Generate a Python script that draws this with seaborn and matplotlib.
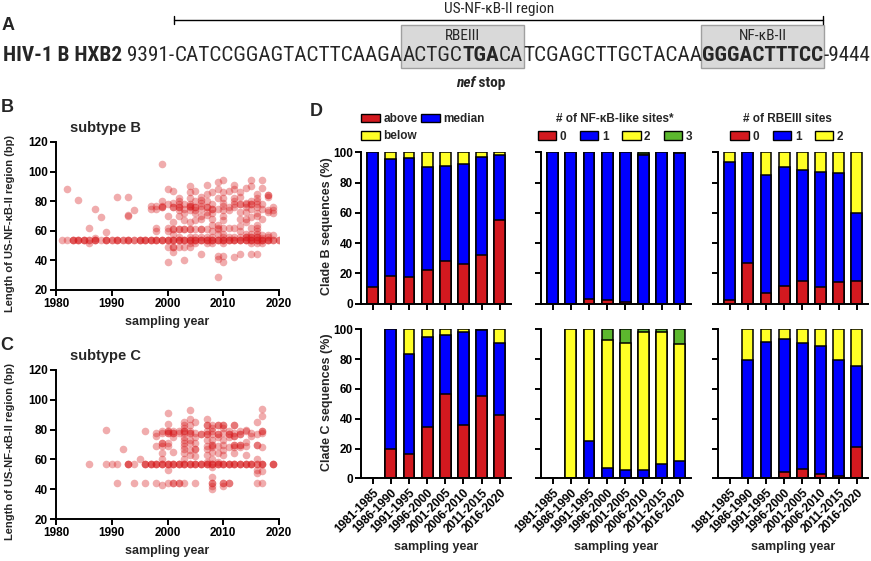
import matplotlib
matplotlib.use("Agg")
import matplotlib.pyplot as plt
import seaborn as sns
from matplotlib import font_manager
from matplotlib.patches import Patch, Rectangle

W, H = 871, 561

# =========================================================
# Daten
# =========================================================
periods = ["1981-1985", "1986-1990", "1991-1995", "1996-2000",
           "2001-2005", "2006-2010", "2011-2015", "2016-2020"]

# Panel D, Clade B (%)
b_len_above = [11, 18.5, 17.5, 22, 28, 26, 32, 55]
b_len_median = [89, 77.1, 78.5, 68.3, 63, 66.3, 65, 43.5]
b_len_below = [0, 4.4, 4, 9.7, 9, 7.7, 3, 1.5]
b_nfkb_0 = [0, 0, 3, 2.5, 1, 0, 0, 0]
b_nfkb_1 = [100, 100, 97, 97.5, 99, 98.5, 100, 99.5]
b_nfkb_2 = [0, 0, 0, 0, 0, 0.5, 0, 0.5]
b_nfkb_3 = [0, 0, 0, 0, 0, 1, 0, 0]
b_rbe_0 = [2.5, 26.7, 7, 11.5, 15, 11, 14.5, 15]
b_rbe_1 = [91, 73.3, 78, 79, 73, 76, 72, 45]
b_rbe_2 = [6.5, 0, 15, 9.5, 12, 13, 13.5, 40]

# Panel D, Clade C (%)
c_len_above = [0, 20, 16.5, 34.5, 56.5, 35.5, 55, 42.5]
c_len_median = [0, 80, 67, 60.5, 39.5, 62.5, 44.5, 48]
c_len_below = [0, 0, 16.5, 5, 4, 2, 0.5, 9.5]
c_nfkb_0 = [0, 0, 0, 0, 0, 0, 0, 0]
c_nfkb_1 = [0, 0, 25, 6.7, 5.6, 5.6, 9.4, 11.6]
c_nfkb_2 = [0, 100, 75, 86.3, 85.4, 92.8, 89, 78.4]
c_nfkb_3 = [0, 0, 0, 7, 9, 1.6, 1.6, 10]
c_rbe_0 = [0, 0, 0, 4, 6, 3, 1.3, 21.3]
c_rbe_1 = [0, 79.4, 91.5, 89.5, 84.6, 85.8, 78.1, 54.3]
c_rbe_2 = [0, 20.6, 8.5, 6.5, 9.4, 11.2, 20.6, 24.4]

# Panel B: Laenge der US-NF-kB-II Region pro Jahr (subtype B)
sub_b_years = [1981, 1982, 1983, 1984, 1985, 1986, 1987, 1988, 1989, 1990,
               1991, 1992, 1993, 1994, 1995, 1996, 1997, 1998, 1999, 2000,
               2001, 2002, 2003, 2004, 2005, 2006, 2007, 2008, 2009, 2010,
               2011, 2012, 2013, 2014, 2015, 2016, 2017, 2018, 2019, 2020]
sub_b_lengths = [
    [54], [54, 88], [54, 54, 54], [54, 54, 54, 81], [54, 54, 54],
    [54, 54, 62, 52], [54, 54, 54, 75, 55], [54, 69], [54, 54, 54, 59], [54, 54],
    [54, 54, 54, 83], [54, 54], [54, 54, 54, 83, 71, 70], [54, 54, 74], [54, 54, 54],
    [54, 54, 54], [54, 54, 54, 77, 75], [54, 54, 54, 77, 75, 62, 60],
    [54, 54, 54, 105, 80, 77, 76, 76],
    [54, 54, 54, 88, 78, 70, 62, 60, 49, 39],
    [54, 54, 54, 87, 79, 76, 76, 66, 61, 61, 58, 49, 49, 46],
    [54, 54, 54, 82, 80, 78, 76, 76, 74, 70, 61, 61, 56, 49],
    [54, 54, 54, 78, 75, 72, 67, 61, 61, 49, 40],
    [54, 54, 54, 90, 86, 82, 78, 77, 77, 76, 74, 66, 61, 61, 56, 52, 49],
    [54, 54, 54, 87, 80, 76, 76, 74, 72, 67, 61, 56, 52],
    [54, 54, 54, 83, 81, 79, 77, 75, 70, 68, 61, 61, 56, 44],
    [54, 54, 54, 91, 85, 80, 76, 76, 73, 71, 61, 56, 52],
    [54, 54, 54, 86, 78, 75, 75, 72, 68, 64, 60, 56, 52],
    [54, 54, 54, 93, 88, 82, 75, 64, 62, 61, 58, 43, 41, 29],
    [54, 54, 54, 94, 86, 82, 79, 77, 74, 70, 67, 62, 58, 56, 52, 43, 39],
    [54, 54, 54, 87, 76, 74, 62, 56],
    [54, 54, 54, 91, 88, 82, 80, 78, 76, 62, 56, 42],
    [54, 54, 54, 86, 83, 78, 78, 73, 68, 63, 60, 56, 44],
    [54, 54, 54, 89, 79, 78, 76, 73, 68, 66, 58, 56, 56],
    [54, 54, 54, 94, 90, 80, 78, 78, 75, 69, 62, 58, 56, 56, 52, 44],
    [54, 54, 54, 85, 82, 80, 78, 76, 72, 70, 64, 62, 60, 58, 56, 56, 52, 44],
    [54, 54, 54, 94, 89, 78, 75, 68, 57, 55, 52],
    [54, 54, 54, 84, 84, 83, 74, 73, 57, 56],
    [54, 54, 76, 74, 72, 57],
    [54, 54],
]

# Panel C: subtype C
sub_c_years = [1986, 1989, 1990, 1991, 1992, 1993, 1994, 1995, 1996, 1997,
               1998, 1999, 2000, 2001, 2002, 2003, 2004, 2005, 2006, 2007,
               2008, 2009, 2010, 2011, 2012, 2013, 2014, 2015, 2016, 2017, 2019]
sub_c_lengths = [
    [57], [57, 80], [57], [57, 44], [67], [57, 57, 57], [57, 44], [60],
    [57, 57, 57, 79, 44], [57, 57, 57], [57, 57, 57, 78, 76, 69, 44],
    [57, 57, 57, 79, 78, 71, 71, 69, 64, 60, 43],
    [57, 57, 57, 91, 84, 79, 79, 78, 78, 71, 69, 53, 44],
    [57, 57, 57, 79, 78, 78, 75, 65, 44, 44],
    [57, 57, 57, 79, 78, 44, 44],
    [57, 57, 57, 85, 83, 81, 79, 79, 78, 75, 73, 71, 69, 67, 64, 60, 44],
    [57, 57, 57, 93, 87, 83, 79, 78, 78, 73, 71, 66, 63],
    [57, 57, 57, 85, 78, 75, 71, 67, 67, 62, 44],
    [57, 57, 57, 77, 77],
    [57, 57, 57, 87, 83, 83, 79, 77, 77, 73, 69, 67, 63, 58],
    [57, 57, 57, 83, 81, 79, 77, 73, 70, 70, 68, 65, 60, 55, 48, 44, 44, 42, 40],
    [57, 57, 57, 83, 83, 77, 77, 75, 69, 64, 58],
    [57, 57, 57, 83, 83, 81, 78, 73, 70, 66, 63, 44, 44, 42],
    [57, 57, 57, 79, 77, 77, 75, 68, 44, 44],
    [57, 57, 57, 83, 83, 78, 76, 76, 70, 70, 68, 64],
    [57, 57, 57, 79, 77, 77, 70, 70, 68],
    [57, 57, 57, 80, 79, 72, 69, 63],
    [57, 57, 57, 78, 76],
    [57, 57, 85, 77, 70, 70, 60, 53, 51, 44],
    [57, 57, 57, 94, 89, 79, 79, 78, 68, 52, 44],
    [57, 57, 57],
]

# Panel A: Sequenz (Text, Schriftgewicht)
seq_parts = ["HIV-1 B HXB2", " 9391-", "CATCCGGAGTACTTCAAGA", "ACTGC", "TGA", "CA",
             "TCGAGCTTGCTACAA", "GGGACTTTCC", "-9444"]
seq_weights = ["bold", "normal", "normal", "normal", "bold", "normal",
               "normal", "bold", "normal"]

RED, BLUE, YELLOW, GREEN = "#d3191f", "#0000ff", "#ffff26", "#5cb82e"

# =========================================================
# Layout
# =========================================================
sns.set_theme(style="ticks")
plt.rcParams["font.family"] = ["Liberation Sans", "DejaVu Sans"]
plt.rcParams["font.weight"] = "bold"

# schmale Schrift fuer Panel A, falls vorhanden
fonts = font_manager.fontManager.ttflist
names = {f.name for f in fonts}
seq_family, seq_stretch = "Liberation Sans", "normal"
for cand in ["Liberation Sans Narrow", "Roboto Condensed", "Open Sans Condensed"]:
    if cand in names:
        seq_family = cand
        break
else:
    if any(f.name == "DejaVu Sans" and f.stretch == "condensed" for f in fonts):
        seq_family, seq_stretch = "DejaVu Sans", "condensed"
    elif any(f.name == "Open Sans" and f.stretch == "condensed" for f in fonts):
        seq_family, seq_stretch = "Open Sans", "condensed"

fig = plt.figure(figsize=(W / 100, H / 100), dpi=100)


def px_axes(l, t, r, b):
    return fig.add_axes([l / W, 1 - b / H, (r - l) / W, (b - t) / H])


def style(ax):
    sns.despine(ax=ax)
    for s in ["left", "bottom"]:
        ax.spines[s].set_linewidth(1.4)
        ax.spines[s].set_color("black")
    ax.tick_params(width=1.4, length=4, labelsize=8.5, pad=2, colors="black")
    ax.set_xlabel("")
    ax.set_ylabel("")


def fig_text(x, y, s, **kw):
    fig.text(x / W, 1 - y / H, s, **kw)


# Overlay-Achse in Pixelkoordinaten fuer Panel A
axA = fig.add_axes([0, 0, 1, 1])
axA.set_xlim(0, W)
axA.set_ylim(H, 0)
axA.axis("off")

# =========================================================
# Panel A: Sequenz
# =========================================================
seq_font = dict(family=seq_family, fontstretch=seq_stretch)
seq_texts = []
prev = axA.text(3, 55, seq_parts[0], fontsize=12, fontweight=seq_weights[0],
                va="center", ha="left", zorder=3, **seq_font)
seq_texts.append(prev)
for part, weight in zip(seq_parts[1:], seq_weights[1:]):
    prev = axA.annotate(part, xy=(1, 0), xycoords=prev, va="bottom", ha="left",
                        fontsize=12, fontweight=weight, zorder=3, **seq_font)
    seq_texts.append(prev)

fig.canvas.draw()
rend = fig.canvas.get_renderer()
width = seq_texts[-1].get_window_extent(rend).x1 - seq_texts[0].get_window_extent(rend).x0
size = 12 * 866 / width
for t in seq_texts:
    t.set_fontsize(size)
fig.canvas.draw()

inv = axA.transData.inverted()


def extent(t):
    bb = t.get_window_extent(rend)
    x0 = inv.transform((bb.x0, bb.y0))[0]
    x1 = inv.transform((bb.x1, bb.y0))[0]
    return x0, x1


rbe_x0 = extent(seq_texts[3])[0]
rbe_x1 = extent(seq_texts[5])[1]
nf_x0, nf_x1 = extent(seq_texts[7])
tga_x0, tga_x1 = extent(seq_texts[4])
br_x0 = extent(seq_texts[2])[0]

for x0, x1, label in [(rbe_x0, rbe_x1, "RBEIII"), (nf_x0, nf_x1, "NF-κB-II")]:
    axA.add_patch(Rectangle((x0 - 1, 25), x1 - x0 + 2, 43, facecolor="#d9d9d9",
                            edgecolor="#a0a0a0", linewidth=1, zorder=1))
    axA.text((x0 + x1) / 2, 36, label, fontsize=size * 0.72, fontweight="normal",
             ha="center", va="center", zorder=3, **seq_font)

# Klammer US-NF-kB-II region
axA.plot([br_x0, nf_x1], [20, 20], color="black", lw=1)
axA.plot([br_x0, br_x0], [16, 24], color="black", lw=1)
axA.plot([nf_x1, nf_x1], [16, 24], color="black", lw=1)
axA.text((br_x0 + nf_x1) / 2, 9, "US-NF-κB-II region", fontsize=size * 0.72,
         fontweight="normal", ha="center", va="center", **seq_font)

nef = axA.text(0, 83, "nef", fontsize=size * 0.72, fontstyle="italic", fontweight="bold",
               ha="left", va="center", **seq_font)
stop = axA.annotate(" stop", xy=(1, 0), xycoords=nef, va="bottom", ha="left",
                    fontsize=size * 0.72, fontweight="bold", **seq_font)
fig.canvas.draw()
n0 = extent(nef)[0]
s1 = extent(stop)[1]
nef.set_x((tga_x0 + tga_x1) / 2 - (s1 - n0) / 2)

fig_text(8, 26, "A", fontsize=13, fontweight="bold", ha="center", va="center")

# =========================================================
# Panel B & C: Streudiagramme
# =========================================================
for years, lengths, top, bottom, letter, ttl, ly in [
        (sub_b_years, sub_b_lengths, 142, 290, "B", "subtype B", 108),
        (sub_c_years, sub_c_lengths, 370, 519, "C", "subtype C", 345)]:
    ax = px_axes(56, top, 279, bottom)
    xs = [yr for yr, ls in zip(years, lengths) for _ in ls]
    ys = [v for ls in lengths for v in ls]
    sns.scatterplot(x=xs, y=ys, color="#d7191c", alpha=0.36, s=30, linewidth=0,
                    legend=False, ax=ax)
    ax.set_xlim(1980, 2020)
    ax.set_ylim(20, 120)
    ax.set_xticks([1980, 1990, 2000, 2010, 2020])
    ax.set_yticks([20, 40, 60, 80, 100, 120])
    style(ax)
    fig_text(70, top - 14, ttl, fontsize=10.5, fontweight="bold", ha="left", va="center")
    fig_text(167, bottom + 32, "sampling year", fontsize=9, fontweight="bold",
             ha="center", va="center")
    fig_text(10, (top + bottom) / 2 + 7, "Length of US-NF-κB-II region (bp)", fontsize=8,
             fontweight="bold", rotation=90, ha="center", va="center")
    fig_text(7, ly, letter, fontsize=13, fontweight="bold", ha="center", va="center")

# =========================================================
# Panel D: gestapelte Balken
# =========================================================


def stacked_bars(ax, layers, colors):
    totals = [sum(v) for v in zip(*layers)]
    for layer, color in zip(layers[::-1], colors[::-1]):
        sns.barplot(x=periods, y=totals, color=color, saturation=1, edgecolor="black",
                    linewidth=1.1, width=0.6, errorbar=None, ax=ax)
        totals = [t - v for t, v in zip(totals, layer)]


cols = [(361, 510.5), (541, 690.5), (718, 867.5)]
rows = [(152.3, 303.7), (329.3, 478.3)]
panels = [
    [([b_len_above, b_len_median, b_len_below], [RED, BLUE, YELLOW]),
     ([b_nfkb_0, b_nfkb_1, b_nfkb_2, b_nfkb_3], [RED, BLUE, YELLOW, GREEN]),
     ([b_rbe_0, b_rbe_1, b_rbe_2], [RED, BLUE, YELLOW])],
    [([c_len_above, c_len_median, c_len_below], [RED, BLUE, YELLOW]),
     ([c_nfkb_0, c_nfkb_1, c_nfkb_2, c_nfkb_3], [RED, BLUE, YELLOW, GREEN]),
     ([c_rbe_0, c_rbe_1, c_rbe_2], [RED, BLUE, YELLOW])],
]

for r, (top, bottom) in enumerate(rows):
    for c, (left, right) in enumerate(cols):
        ax = px_axes(left, top, right, bottom)
        layers, colors = panels[r][c]
        stacked_bars(ax, layers, colors)
        ax.set_xlim(-0.65, 7.6)
        ax.set_ylim(0, 100)
        ax.set_yticks([0, 20, 40, 60, 80, 100])
        style(ax)
        if c > 0:
            ax.set_yticklabels([])
        if r == 0:
            ax.set_xticklabels([])
        else:
            ax.set_xticks(range(len(periods)))
            ax.set_xticklabels(periods, rotation=45, ha="right", rotation_mode="anchor",
                               fontsize=8.5, fontweight="bold")
            fig_text((left + right) / 2, 547, "sampling year", fontsize=9,
                     fontweight="bold", ha="center", va="center")

fig_text(327, 226, "Clade B sequences (%)", fontsize=9, fontweight="bold",
         rotation=90, ha="center", va="center")
fig_text(327, 402, "Clade C sequences (%)", fontsize=9, fontweight="bold",
         rotation=90, ha="center", va="center")
fig_text(316, 111, "D", fontsize=13, fontweight="bold", ha="center", va="center")

# Legenden
leg_kw = dict(frameon=False, fontsize=8.5, handlelength=1.6, handleheight=0.75,
              handletextpad=0.3, borderpad=0, borderaxespad=0,
              bbox_transform=fig.transFigure)


def patches(colors):
    return [Patch(facecolor=col, edgecolor="black", linewidth=1) for col in colors]


fig.legend(patches([RED, YELLOW, BLUE]), ["above", "below", "median"], ncol=2,
           loc="upper left", bbox_to_anchor=(361 / W, 1 - 113 / H),
           columnspacing=0.3, labelspacing=0.45, **leg_kw)
fig.legend(patches([RED, BLUE, YELLOW, GREEN]), ["0", "1", "2", "3"], ncol=4,
           loc="upper center", bbox_to_anchor=(615 / W, 1 - 113 / H),
           columnspacing=1.1, title="# of NF-κB-like sites*",
           title_fontproperties={"weight": "bold", "size": 8.5}, **leg_kw)
fig.legend(patches([RED, BLUE, YELLOW]), ["0", "1", "2"], ncol=3,
           loc="upper center", bbox_to_anchor=(787 / W, 1 - 113 / H),
           columnspacing=1.1, title="# of RBEIII sites",
           title_fontproperties={"weight": "bold", "size": 8.5}, **leg_kw)

plt.savefig("out.png", dpi=100)
plt.close()
